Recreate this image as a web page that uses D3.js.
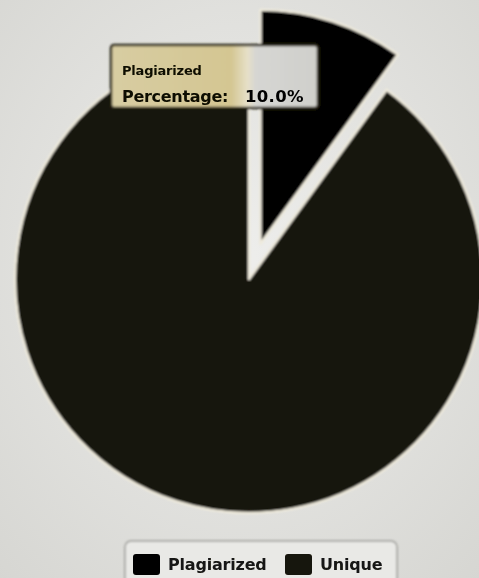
<!DOCTYPE html>
<html>
<head>
<meta charset="utf-8">
<script src="https://cdn.jsdelivr.net/npm/d3@7/dist/d3.min.js"></script>
<style>
  html, body { margin: 0; padding: 0; background: #e6e6e2; }
  svg { display: block; }
</style>
</head>
<body>
<svg id="chart" width="479" height="578"></svg>
<script>
const categories = ["Plagiarized", "Unique"];
const values = [10, 90];
const colors = ["#040404", "#141209"];
const sliced = [true, false];
const tooltipTitle = "Plagiarized";
const tooltipLabel = "Percentage:";
const tooltipValue = "10.0%";

const W = 479, H = 578;
const cx = 249, cy = 279, R = 234, slicedOffset = 37;
const FONT = "DejaVu Sans, Verdana, sans-serif";

const svg = d3.select("#chart");
const defs = svg.append("defs");

const bg = defs.append("radialGradient").attr("id", "bg").attr("cx", "50%").attr("cy", "45%").attr("r", "75%");
bg.append("stop").attr("offset", "0%").attr("stop-color", "#eeeeec");
bg.append("stop").attr("offset", "100%").attr("stop-color", "#d6d6d2");

const blur = defs.append("filter").attr("id", "soft").attr("x", "-5%").attr("y", "-5%").attr("width", "110%").attr("height", "110%");
blur.append("feGaussianBlur").attr("stdDeviation", 0.8);
const blur2 = defs.append("filter").attr("id", "softText").attr("x", "-5%").attr("y", "-20%").attr("width", "110%").attr("height", "140%");
blur2.append("feGaussianBlur").attr("stdDeviation", 0.45);

const tipGrad = defs.append("linearGradient").attr("id", "tip").attr("x1", "0").attr("x2", "1").attr("y1", "0").attr("y2", "0");
tipGrad.append("stop").attr("offset", "0%").attr("stop-color", "#d8cda2");
tipGrad.append("stop").attr("offset", "58%").attr("stop-color", "#d4c692");
tipGrad.append("stop").attr("offset", "66%").attr("stop-color", "#e6e0c8");
tipGrad.append("stop").attr("offset", "70%").attr("stop-color", "#d6d6d3");
tipGrad.append("stop").attr("offset", "100%").attr("stop-color", "#cfcfcb");

svg.append("rect").attr("width", W).attr("height", H).attr("fill", "url(#bg)");

const root = svg.append("g").attr("filter", "url(#soft)");

const pie = d3.pie().sort(null).value(d => d.value).startAngle(0).endAngle(2 * Math.PI);
const data = categories.map((c, i) => ({ name: c, value: values[i], color: colors[i], sliced: sliced[i] }));
const arcs = pie(data);
const arc = d3.arc().innerRadius(0).outerRadius(R);

const g = root.append("g").attr("transform", `translate(${cx},${cy})`);
g.selectAll("path")
  .data(arcs)
  .join("path")
  .attr("d", arc)
  .attr("fill", d => d.data.color)
  .attr("stroke", "#eeeadc")
  .attr("stroke-width", 2.5)
  .attr("stroke-linejoin", "round")
  .attr("transform", d => {
    if (!d.data.sliced) return null;
    const mid = (d.startAngle + d.endAngle) / 2;
    return `translate(${Math.sin(mid) * slicedOffset},${-Math.cos(mid) * slicedOffset})`;
  });

// Tooltip
const tipBox = root.append("g").attr("transform", "translate(111,45)");
tipBox.append("rect")
  .attr("width", 207).attr("height", 63).attr("rx", 3)
  .attr("fill", "url(#tip)")
  .attr("stroke", "#2a2618").attr("stroke-width", 2.5);
const tip = svg.append("g").attr("transform", "translate(111,45)").attr("filter", "url(#softText)");
tip.append("text")
  .attr("x", 11).attr("y", 30)
  .attr("font-family", FONT)
  .attr("font-size", 13).attr("font-weight", "bold").attr("fill", "#0e0c05")
  .attr("letter-spacing", "-0.2")
  .text(tooltipTitle);
tip.append("text")
  .attr("x", 11).attr("y", 57)
  .attr("font-family", FONT)
  .attr("font-size", 16).attr("font-weight", "bold").attr("fill", "#0e0c05")
  .attr("letter-spacing", "-0.3")
  .text(tooltipLabel);
tip.append("text")
  .attr("x", 134).attr("y", 57)
  .attr("font-family", FONT)
  .attr("font-size", 16.5).attr("font-weight", "bold").attr("fill", "#030303")
  .attr("letter-spacing", "0.3")
  .text(tooltipValue);

// Legend
const lgBox = root.append("g").attr("transform", "translate(125,541)");
lgBox.append("rect")
  .attr("width", 272).attr("height", 44).attr("rx", 6)
  .attr("fill", "#e9e9e6").attr("stroke", "#9a9a96").attr("stroke-width", 1.5);
const lg = svg.append("g").attr("transform", "translate(125,541)").attr("filter", "url(#softText)");
const items = lg.selectAll("g.item").data(data).join("g")
  .attr("class", "item")
  .attr("transform", (d, i) => `translate(${i === 0 ? 8 : 160},13)`);
items.append("rect")
  .attr("width", 27).attr("height", 21).attr("rx", 3)
  .attr("fill", d => d.color);
items.append("text")
  .attr("x", 35).attr("y", 16)
  .attr("font-family", FONT)
  .attr("font-size", 16).attr("font-weight", "bold").attr("fill", "#141412")
  .attr("letter-spacing", "-0.2")
  .text(d => d.name);
</script>
</body>
</html>
